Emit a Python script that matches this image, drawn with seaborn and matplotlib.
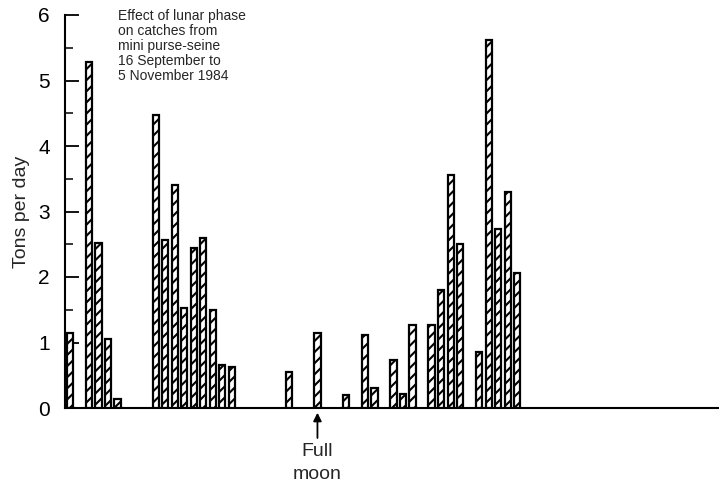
import matplotlib
matplotlib.use("Agg")
import matplotlib.pyplot as plt
from matplotlib.ticker import MultipleLocator
import seaborn as sns
import pandas as pd

# Day index counted from 16 September 1984 (day 0)
days = [0, 2, 3, 4, 5, 9, 10, 11, 12, 13, 14, 15, 16, 17, 23, 26, 29, 31, 32,
        34, 35, 36, 38, 39, 40, 41, 43, 44, 45, 46, 47]
tons = [1.14, 5.28, 2.52, 1.05, 0.14, 4.47, 2.56, 3.40, 1.53, 2.45, 2.60, 1.49,
        0.66, 0.62, 0.55, 1.14, 0.20, 1.12, 0.30, 0.73, 0.22, 1.27, 1.26, 1.80,
        3.56, 2.50, 0.85, 5.62, 2.73, 3.30, 2.06]
full_moon_day = 26
y_ticks = [0, 1, 2, 3, 4, 5, 6]
note = ("Effect of lunar phase\non catches from\nmini purse-seine\n"
        "16 September to\n5 November 1984")

sns.set_style("ticks")
plt.rcParams["font.family"] = ["Liberation Sans", "DejaVu Sans"]
plt.rcParams["hatch.linewidth"] = 1.5

df = pd.DataFrame({"day": days, "tons": tons})

fig = plt.figure(figsize=(7.19, 4.84), dpi=100)
ax = fig.add_axes([65 / 719, 76 / 484, 654 / 719, 393 / 484])

sns.barplot(data=df, x="day", y="tons", native_scale=True, width=0.66,
            color="white", edgecolor="black", linewidth=1.6, hatch="///",
            ax=ax, zorder=3)
for p in ax.patches:
    p.set_facecolor("white")
    p.set_edgecolor("black")

ax.set_xlim(-0.53, 68.2)
ax.set_ylim(0, 6)
ax.set_xticks([])
ax.set_xlabel("")
ax.set_yticks(y_ticks)
ax.set_yticklabels([str(t) for t in y_ticks], fontsize=15)
ax.yaxis.set_minor_locator(MultipleLocator(0.5))
ax.tick_params(axis="y", which="major", direction="in", length=10, width=1.3,
               pad=11, colors="black")
ax.tick_params(axis="y", which="minor", direction="in", length=6, width=1.3)
ax.set_ylabel("Tons per day", fontsize=14, labelpad=6)

for side in ["top", "right"]:
    ax.spines[side].set_visible(False)
for side in ["left", "bottom"]:
    ax.spines[side].set_linewidth(1.5)
    ax.spines[side].set_color("black")

ax.annotate("", xy=(full_moon_day, -0.03), xytext=(full_moon_day, -0.5),
            annotation_clip=False,
            arrowprops=dict(arrowstyle="-|>", color="black", lw=1.3,
                            mutation_scale=12))
ax.text(full_moon_day, -0.54, "Full\nmoon", ha="center", va="top",
        fontsize=14, linespacing=1.45, clip_on=False)

fig.text(118 / 719, 1 - 9 / 484, note, ha="left", va="top", fontsize=10,
         linespacing=1.08)

fig.savefig("out.png", dpi=100)
